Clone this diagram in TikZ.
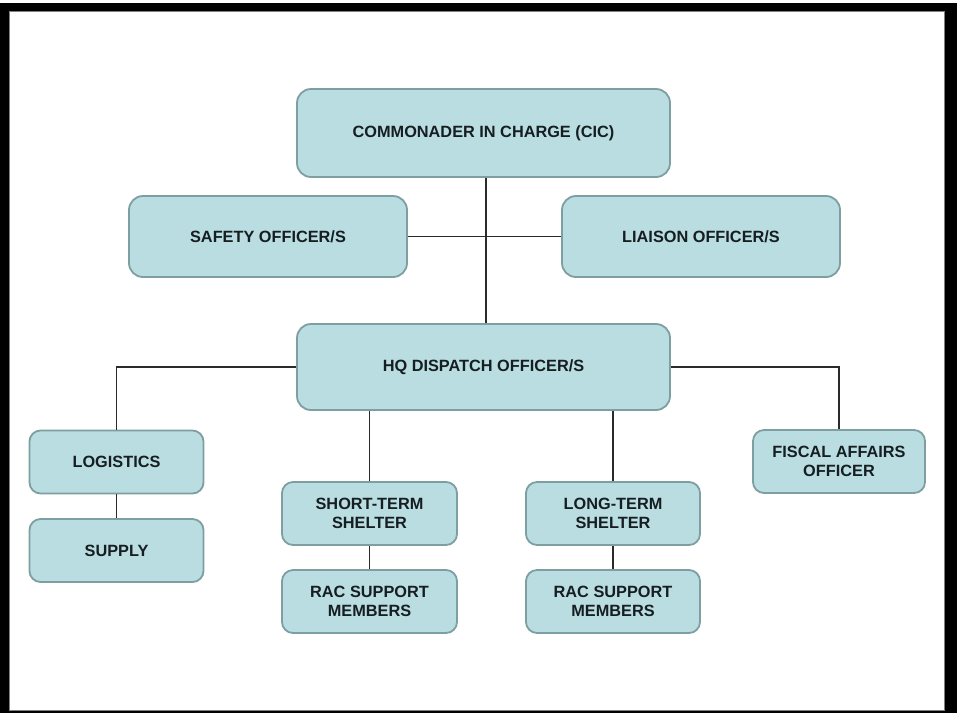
\documentclass[tikz,border=0pt]{standalone}
\usepackage{fontspec}
\setmainfont{Liberation Sans}
\begin{document}
\begin{tikzpicture}[x=1pt,y=-1pt,
  box/.style={draw=boxline, fill=boxfill, line width=1.8pt, rounded corners=14pt,
    inner sep=0pt, align=center, text=boxtext,
    font=\fontsize{16.3}{19.5}\selectfont\bfseries},
  smallbox/.style={box, rounded corners=11pt},
  link/.style={draw=linkc, line width=1.3pt}]
\definecolor{boxfill}{HTML}{B9DDE0}
\definecolor{boxline}{HTML}{7E9FA1}
\definecolor{boxtext}{HTML}{161E22}
\definecolor{linkc}{HTML}{2A2A2A}
\useasboundingbox (0,0) rectangle (957,713);
\fill[black] (0,3) rectangle (957,713);
\fill[white] (9,11) rectangle (944,710);
\draw[gray, line width=0.8pt] (9,11) rectangle (944,710);

\node[box, minimum width=373pt, minimum height=88pt] (cic) at (483.5,133) {COMMONADER IN CHARGE (CIC)};
\node[box, minimum width=278pt, minimum height=81pt] (safety) at (268,236.5) {SAFETY OFFICER/S};
\node[box, minimum width=278pt, minimum height=81pt] (liaison) at (701,236.5) {LIAISON OFFICER/S};
\node[box, minimum width=373pt, minimum height=86pt] (hq) at (483.5,367) {HQ DISPATCH OFFICER/S};
\node[smallbox, minimum width=174pt, minimum height=63pt] (log) at (116.5,462) {LOGISTICS};
\node[smallbox, minimum width=174pt, minimum height=63pt] (supply) at (116.5,550.5) {SUPPLY};
\node[smallbox, minimum width=175pt, minimum height=63pt] (short) at (369.5,513.5) {SHORT-TERM\\SHELTER};
\node[smallbox, minimum width=175pt, minimum height=63pt] (rac1) at (369.5,601.5) {RAC SUPPORT\\MEMBERS};
\node[smallbox, minimum width=174pt, minimum height=63pt] (long) at (613,513.5) {LONG-TERM\\SHELTER};
\node[smallbox, minimum width=174pt, minimum height=63pt] (rac2) at (613,601.5) {RAC SUPPORT\\MEMBERS};
\node[smallbox, minimum width=172pt, minimum height=63pt] (fiscal) at (839,461.5) {FISCAL AFFAIRS\\OFFICER};

\path[link] ([xshift=2.5pt]cic.south) -- ([xshift=2.5pt]hq.north);
\path[link] (safety.east) -- (liaison.west);
\path[link] (hq.west) -| (log.north);
\path[link] (hq.east) -| (fiscal.north);
\path[link] (short.north) -- (short.north |- hq.south);
\path[link] (long.north) -- (long.north |- hq.south);
\path[link] (log.south) -- (supply.north);
\path[link] (short.south) -- (rac1.north);
\path[link] (long.south) -- (rac2.north);
\end{tikzpicture}
\end{document}
